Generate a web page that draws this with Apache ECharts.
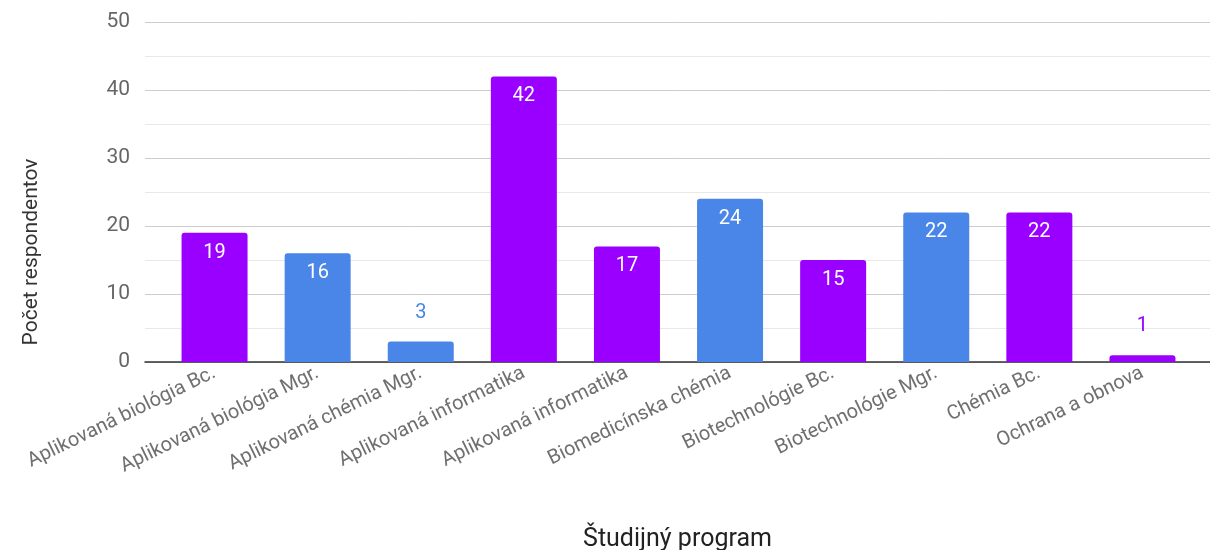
<!DOCTYPE html>
<html><head><meta charset="utf-8">
<script src="https://cdn.jsdelivr.net/npm/echarts@6/dist/echarts.min.js"></script>
<style>html,body{margin:0;padding:0;background:#fff}#c{width:1210px;height:550px}</style>
</head><body><div id="c"></div>
<script>
const categories = ['Aplikovaná biológia Bc.','Aplikovaná biológia Mgr.','Aplikovaná chémia Mgr.','Aplikovaná informatika','Aplikovaná informatika','Biomedicínska chémia','Biotechnológie Bc.','Biotechnológie Mgr.','Chémia Bc.','Ochrana a obnova'];
const values = [19,16,3,42,17,24,15,22,22,1];
const groups = ['p','b','b','p','p','b','p','b','p','p'];
const yTicks = [0,10,20,30,40,50];

const colorOf = {p:'#9900ff', b:'#4a86e8'};
const data = values.map((v,i)=>{
  const c = colorOf[groups[i]];
  const small = v < 5;
  return {value:v, itemStyle:{color:c},
    label: small ? {position:'top', distance:19, color:c} : {position:'insideTop', distance:10, color:'#fff'}};
});
const chart = echarts.init(document.getElementById('c'));
chart.setOption({
  animation:false,
  grid:[{left:145,right:0,top:22,bottom:188,outerBoundsMode:'none',containLabel:false},
        {left:163,right:16,top:22,bottom:188,outerBoundsMode:'none',containLabel:false}],
  xAxis:[
    {gridIndex:0,type:'value',min:0,max:1,axisLine:{show:true,onZero:false,lineStyle:{color:'#333',width:1.5}},axisLabel:{show:false},axisTick:{show:false},splitLine:{show:false},
     name:'Študijný program',nameLocation:'middle',nameGap:165,nameTextStyle:{fontFamily:'Roboto',fontSize:25,color:'#222'}},
    {gridIndex:1,type:'category',data:categories,axisLine:{show:false},axisTick:{show:false},
     axisLabel:{interval:0,rotate:26,margin:10,fontFamily:'Roboto',fontSize:20,color:'#707070'}}
  ],
  yAxis:[
    {gridIndex:0,type:'value',min:yTicks[0],max:yTicks[yTicks.length-1],interval:10,
     axisLine:{show:false},axisTick:{show:false},
     axisLabel:{margin:15,fontFamily:'Roboto',fontSize:21,color:'#666'},
     splitLine:{lineStyle:{color:'#cccccc',width:1}},
     minorTick:{show:false,splitNumber:2},minorSplitLine:{show:true,lineStyle:{color:'#e8e8e8',width:1}}},
    {gridIndex:1,type:'value',min:0,max:50,show:false,splitLine:{show:false}}
  ],
  graphic:[{type:'text',x:32,y:252,rotation:Math.PI/2,
    style:{text:'Počet respondentov',font:'21px Roboto',fill:'#333',align:'center',verticalAlign:'middle'}}],
  series:[{type:'bar',xAxisIndex:1,yAxisIndex:1,data:data,barWidth:66,
    itemStyle:{borderRadius:[3,3,0,0]},
    label:{show:true,fontFamily:'Roboto',fontSize:20}}]
});
</script></body></html>
